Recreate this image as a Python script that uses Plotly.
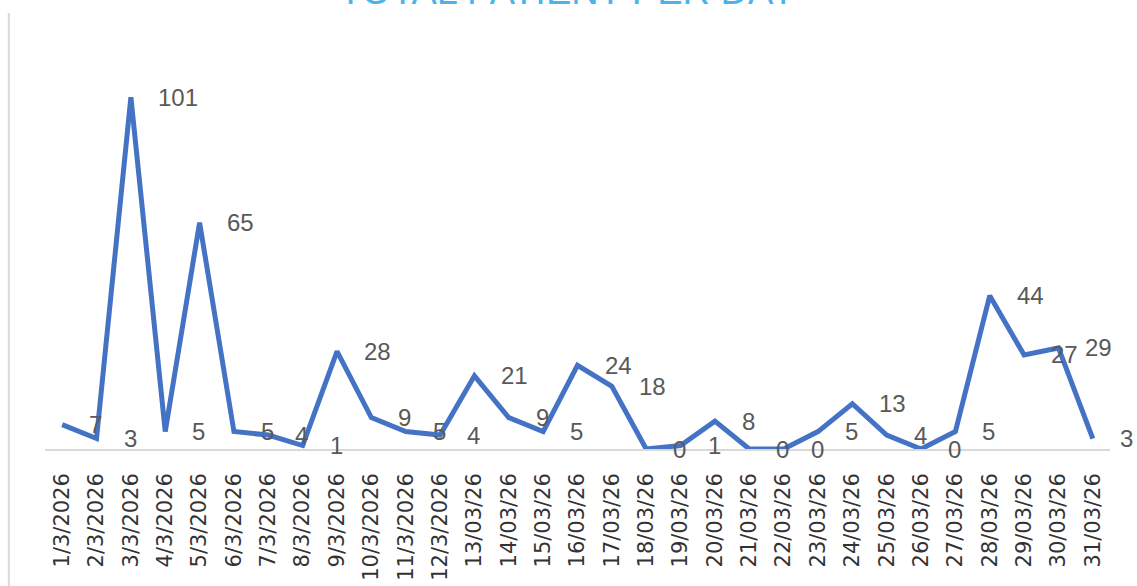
import plotly.graph_objects as go

dates = ["1/3/2026", "2/3/2026", "3/3/2026", "4/3/2026", "5/3/2026", "6/3/2026",
         "7/3/2026", "8/3/2026", "9/3/2026", "10/3/2026", "11/3/2026", "12/3/2026",
         "13/03/26", "14/03/26", "15/03/26", "16/03/26", "17/03/26", "18/03/26",
         "19/03/26", "20/03/26", "21/03/26", "22/03/26", "23/03/26", "24/03/26",
         "25/03/26", "26/03/26", "27/03/26", "28/03/26", "29/03/26", "30/03/26",
         "31/03/26"]
patients = [7, 3, 101, 5, 65, 5, 4, 1, 28, 9, 5, 4, 21, 9, 5, 24, 18, 0,
            1, 8, 0, 0, 5, 13, 4, 0, 5, 44, 27, 29, 3]
title_text = "TOTAL PATIENT PER DAY"

fig = go.Figure()
fig.add_trace(go.Scatter(
    x=dates, y=patients, mode="lines",
    line=dict(color="#4472C4", width=5),
    hoverinfo="x+y",
))

for d, v in zip(dates, patients):
    fig.add_annotation(
        x=d, y=v, text=str(v), showarrow=False,
        xanchor="left", yanchor="middle", xshift=25,
        font=dict(family="Liberation Sans, Arial, sans-serif", size=24, color="#595959"),
    )

# title (mostly cut off at the top edge, as in the reference)
fig.add_annotation(
    xref="paper", yref="paper", x=0.491, y=1.0, yshift=40,
    xanchor="center", yanchor="middle", showarrow=False,
    text=title_text,
    font=dict(family="Liberation Sans, Arial, sans-serif", size=38, color="#4BB3EC"),
)

# left chart-area border
fig.add_shape(type="line", xref="paper", yref="paper",
              x0=-0.034, x1=-0.034, y0=-0.35, y1=1.043,
              line=dict(color="#d9d9d9", width=2))

fig.update_layout(
    width=1137, height=586,
    margin=dict(l=45, r=27, t=31, b=137, autoexpand=False),
    plot_bgcolor="white", paper_bgcolor="white",
    showlegend=False,
    xaxis=dict(
        type="category", range=[-0.5, 30.5], automargin=False,
        showline=True, linecolor="#d9d9d9", linewidth=1.5,
        showgrid=False, zeroline=False, ticks="",
        tickangle=-90, ticklabelstandoff=14,
        tickfont=dict(family="DejaVu Sans, sans-serif", size=21, color="#333333"),
    ),
    yaxis=dict(
        range=[0, 120], showgrid=False, zeroline=False, automargin=False,
        showline=False, showticklabels=False, ticks="",
    ),
)

fig.write_html(
    "out.html",
    config={"displayModeBar": False},
    post_script="document.body.style.margin='0';document.body.style.overflow='hidden';",
)
